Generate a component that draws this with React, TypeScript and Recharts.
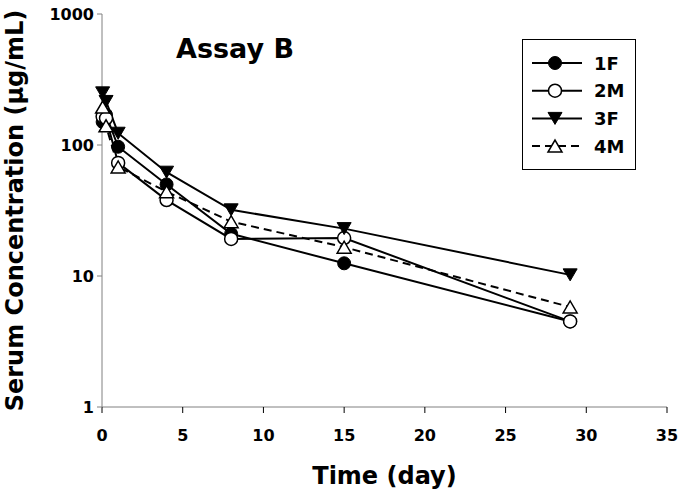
import { LineChart, Line, XAxis, YAxis, Label } from "recharts";

const times = [0.04, 0.25, 1, 4, 8, 15, 29];
const f1 = [150, 170, 97, 50, 21, 12.5, 4.5];
const m2 = [165, 160, 73, 38, 19.2, 19.5, 4.5];
const f3 = [250, 215, 123, 62, 32, 23, 10.2];
const m4 = [195, 140, 68, 44, 26, 16.6, 5.8];
const xTicks = [0, 5, 10, 15, 20, 25, 30, 35];
const yTicks = [1, 10, 100, 1000];

const series = [
  { key: "f1", name: "1F", shape: "circle", fill: "#000", dash: undefined },
  { key: "m2", name: "2M", shape: "circle", fill: "#fff", dash: undefined },
  { key: "f3", name: "3F", shape: "down", fill: "#000", dash: undefined },
  { key: "m4", name: "4M", shape: "up", fill: "#fff", dash: "8 5" },
];

const data = times.map((t, i) => ({
  t,
  f1: f1[i],
  m2: m2[i],
  f3: f3[i],
  m4: m4[i],
}));

const FONT = "DejaVu Sans";

function Marker({ cx, cy, shape, fill }: { cx: number; cy: number; shape: string; fill: string }) {
  if (cx == null || cy == null) return null;
  if (shape === "circle") {
    return <circle cx={cx} cy={cy} r={6.5} fill={fill} stroke="#000" strokeWidth={fill === "#000" ? 1 : 1.5} />;
  }
  const h = 12;
  const w = 14;
  if (shape === "down") {
    return (
      <polygon
        points={`${cx - w / 2},${cy - h / 2} ${cx + w / 2},${cy - h / 2} ${cx},${cy + h / 2}`}
        fill={fill}
        stroke="#000"
        strokeWidth={1}
      />
    );
  }
  return (
    <polygon
      points={`${cx - w / 2},${cy + h / 2} ${cx + w / 2},${cy + h / 2} ${cx},${cy - h / 2}`}
      fill={fill}
      stroke="#000"
      strokeWidth={1.5}
    />
  );
}

function LegendBox() {
  return (
    <svg width={114} height={131} style={{ position: "absolute", left: 522, top: 39 }}>
      <rect x={0.5} y={0.5} width={113} height={130} fill="#fff" stroke="#000" strokeWidth={1} />
      {series.map((s, i) => {
        const y = 24 + i * 27.7;
        return (
          <g key={s.key}>
            <line x1={10} x2={60} y1={y} y2={y} stroke="#000" strokeWidth={2} strokeDasharray={s.dash} />
            <Marker cx={33} cy={y} shape={s.shape} fill={s.fill} />
            <text x={72} y={y + 6.5} fontFamily={FONT} fontWeight="bold" fontSize={18} fill="#000">
              {s.name}
            </text>
          </g>
        );
      })}
    </svg>
  );
}

export default function App() {
  return (
    <div style={{ position: "absolute", left: 0, top: 0, width: 682, height: 501, background: "#fff" }}>
      <LineChart
        width={682}
        height={501}
        data={data}
        margin={{ top: 14, right: 15, bottom: 0, left: 0 }}
      >
        <XAxis
          dataKey="t"
          type="number"
          domain={[0, 35]}
          ticks={xTicks}
          interval={0}
          height={94}
          stroke="#808080"
          tickSize={6}
          tickMargin={17}
          tickLine={{ stroke: "#000" }}
          tick={{ fill: "#000", fontFamily: FONT, fontWeight: "bold", fontSize: 16 }}
        >
          <Label
            value="Time (day)"
            position="insideBottom"
            offset={17}
            style={{ fontFamily: FONT, fontWeight: "bold", fontSize: 24, fill: "#000" }}
          />
        </XAxis>
        <YAxis
          scale="log"
          domain={[1, 1000]}
          ticks={yTicks}
          interval={0}
          allowDataOverflow
          width={102}
          stroke="#808080"
          tickSize={5}
          tickMargin={3}
          tick={{ fill: "#000", fontFamily: FONT, fontWeight: "bold", fontSize: 16 }}
        >
          <Label
            value="Serum Concentration (µg/mL)"
            angle={-90}
            position="insideLeft"
            offset={14}
            style={{ fontFamily: FONT, fontWeight: "bold", fontSize: 24, fill: "#000", textAnchor: "middle" }}
          />
        </YAxis>
        {series.map((s) => (
          <Line
            key={s.key}
            dataKey={s.key}
            name={s.name}
            stroke="#000"
            strokeWidth={2}
            strokeDasharray={s.dash}
            isAnimationActive={false}
            dot={(p: any) => <Marker key={`${s.key}-${p.index}`} cx={p.cx} cy={p.cy} shape={s.shape} fill={s.fill} />}
            activeDot={false}
          />
        ))}
      </LineChart>
      <LegendBox />
      <div
        style={{
          position: "absolute",
          left: 176,
          top: 34,
          fontFamily: FONT,
          fontWeight: "bold",
          fontSize: 27,
          lineHeight: "30px",
          color: "#000",
          whiteSpace: "nowrap",
        }}
      >
        Assay B
      </div>
    </div>
  );
}
